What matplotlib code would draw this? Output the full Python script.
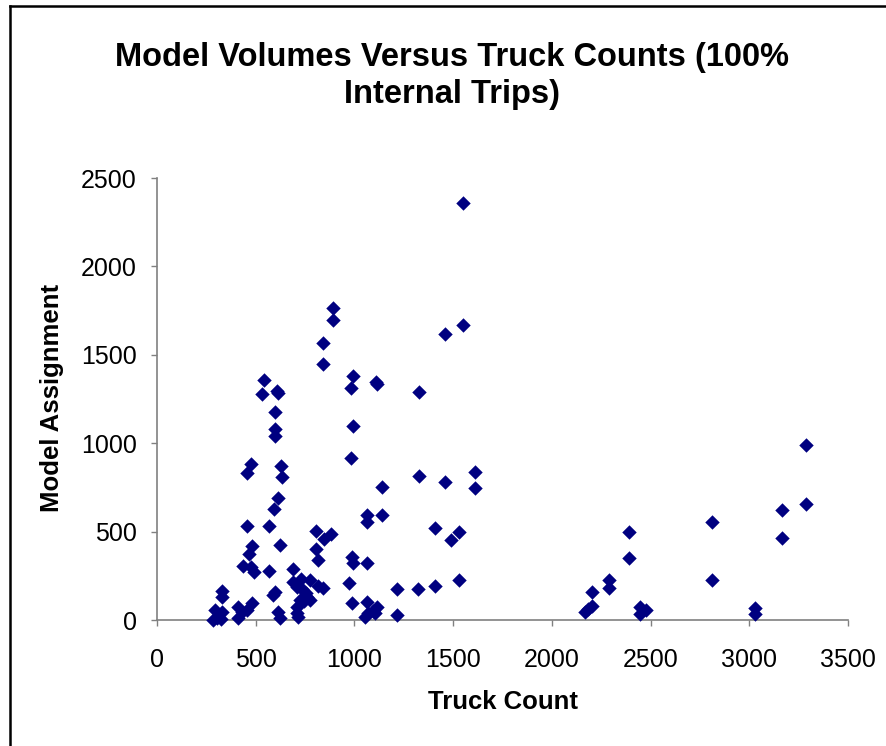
import matplotlib
matplotlib.use("Agg")
import matplotlib.pyplot as plt
from matplotlib.lines import Line2D

plt.rcParams['font.family'] = ['Liberation Sans', 'DejaVu Sans']

truck_count = [
    1551, 893, 893, 841, 841, 1460, 1551, 540, 532, 607, 612, 598, 598, 598,
    993, 982, 993, 982, 1110, 1116, 1328, 1328, 1460, 1611, 1611, 1138, 1138,
    1065, 1065, 1408, 1531, 1488, 1531, 1408, 1324, 1217, 1217,
    3288, 3288, 3165, 3165, 2810, 2810, 2393, 2393, 2290, 2290, 2201, 2201,
    2184, 2167, 2444, 2444, 2478, 3031, 3031,
    475, 455, 455, 480, 468, 437, 475, 491, 567, 569, 630, 635, 615, 595, 623,
    598, 590, 615, 623, 804, 804, 814, 848, 880, 843, 817, 775, 728, 691, 691,
    708, 986, 995, 1065, 974, 986, 1065, 1113, 1070, 1104, 1053, 724, 775, 708,
    708, 716, 328, 328, 294, 328, 302, 283, 323, 412, 480, 454, 412, 429, 761,
    747, 736, 756, 1096,
]
model_assignment = [
    2360, 1765, 1695, 1569, 1446, 1615, 1671, 1357, 1277, 1298, 1285, 1177, 1081, 1041,
    1381, 1311, 1097, 915, 1344, 1333, 1287, 815, 780, 837, 746, 751, 594,
    594, 552, 523, 499, 453, 225, 193, 174, 175, 28,
    992, 657, 620, 461, 555, 225, 496, 349, 228, 180, 156, 80,
    62, 46, 72, 35, 56, 70, 35,
    882, 834, 531, 419, 373, 306, 298, 273, 531, 279, 872, 810, 689, 630, 422,
    160, 140, 47, 10, 502, 400, 338, 457, 485, 183, 192, 226, 232, 217, 287,
    188, 358, 321, 321, 207, 98, 104, 75, 38, 38, 15, 113, 113, 75,
    38, 19, 166, 128, 57, 47, 9, 0, 8, 75, 98, 57, 10, 46, 131,
    105, 174, 150, 51,
]

x_ticks = [0, 500, 1000, 1500, 2000, 2500, 3000, 3500]
y_ticks = [0, 500, 1000, 1500, 2000, 2500]

W, H = 886, 746
fig = plt.figure(figsize=(W / 100, H / 100), dpi=100)
ax = fig.add_axes([157 / W, 1 - 620 / H, (848 - 157) / W, (620 - 178) / H])

ax.scatter(truck_count, model_assignment, marker='D', s=54, color='#000080',
           linewidths=0, zorder=3, clip_on=False)

ax.set_xlim(0, 3500)
ax.set_ylim(0, 2500)
ax.set_xticks(x_ticks)
ax.set_yticks(y_ticks)
ax.set_xticklabels([str(v) for v in x_ticks])
ax.set_yticklabels([str(v) for v in y_ticks])

for side in ['top', 'right']:
    ax.spines[side].set_visible(False)
for side in ['left', 'bottom']:
    ax.spines[side].set_color('#808080')
    ax.spines[side].set_linewidth(1.2)

ax.tick_params(axis='both', direction='out', length=4.5, width=1.0,
               color='#808080', labelsize=18, labelcolor='black')
ax.tick_params(axis='y', pad=10)
ax.tick_params(axis='x', pad=16)

fig.text(452 / W, 1 - 76 / H, 'Model Volumes Versus Truck Counts (100%\nInternal Trips)',
         ha='center', va='center', fontsize=23.5, fontweight='bold', linespacing=1.25)
fig.text(52 / W, 1 - 398 / H, 'Model Assignment', rotation=90, ha='center', va='center',
         fontsize=18.5, fontweight='bold')
fig.text(503 / W, 1 - 702 / H, 'Truck Count', ha='center', va='center',
         fontsize=18.5, fontweight='bold')

# outer chart border (only left and top edges visible in the frame)
fig.add_artist(Line2D([9.5 / W, 9.5 / W], [0, 1 - 5.5 / H], transform=fig.transFigure,
                      color='black', linewidth=1.8))
fig.add_artist(Line2D([9.5 / W, 1], [1 - 5.5 / H, 1 - 5.5 / H], transform=fig.transFigure,
                      color='black', linewidth=1.8))

fig.savefig('out.png', dpi=100, facecolor='white')
